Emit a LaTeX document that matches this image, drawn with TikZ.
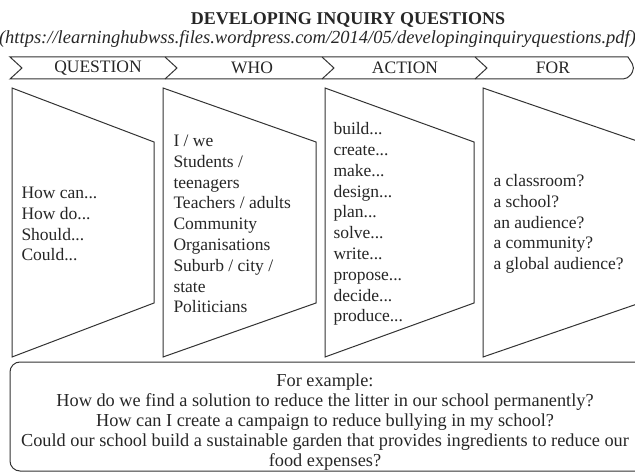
\documentclass[tikz,border=0pt]{standalone}
\usepackage{fontspec}
\setmainfont{Liberation Serif}

\begin{document}
\begin{tikzpicture}[x=1pt,y=-1pt,line width=1pt,
    every node/.style={text=black!85, font=\fontsize{17.5}{20.8}\selectfont},
    head/.style={inner sep=0pt},
    panel/.style={draw=black!80, line join=miter},
    item/.style={anchor=west, align=left, inner sep=0pt}]

    \useasboundingbox (0,0) rectangle (635,473);
    \clip (0,0) rectangle (635,473);

    \node (title) at (348,20) {\fontsize{18}{20}\selectfont\bfseries DEVELOPING INQUIRY QUESTIONS};
    \node[font=\fontsize{18.5}{20}\selectfont\itshape] (url) at (317.5,39) {(https://learninghubwss.files.wordpress.com/2014/05/developinginquiryquestions.pdf)};

    % header bar
    \draw[panel] (22,68) -- (10,57) -- (628,57) [rounded corners=5pt] -- (635,68) -- (628,79) [sharp corners] -- (10,79) -- cycle;
    \foreach \x in {165,322,475}
        \draw[panel] (\x,57) -- (\x+12,68) -- (\x,79);

    \node[head] (hq) at (98,68) {QUESTION};
    \node[head] (hwho) at (252,68) {WHO};
    \node[head] (hact) at (405,68) {ACTION};
    \node[head] (hfor) at (553,68) {FOR};

    % panels
    \foreach \l/\r in {12/154,163/316,325/474,483/640}
        \draw[panel] (\l,88) -- (\r,142) -- (\r,303) -- (\l,357) -- cycle;

    \node[item] (question) at (21,224) {How can...\\How do...\\Should...\\Could...};
    \node[item] (who) at (173,224) {I / we\\Students /\\teenagers\\Teachers / adults\\Community\\Organisations\\Suburb / city /\\state\\Politicians};
    \node[item] (action) at (333,224) {build...\\create...\\make...\\design...\\plan...\\solve...\\write...\\propose...\\decide...\\produce...};
    \node[item] (audience) at (493,224) {a classroom?\\a school?\\an audience?\\a community?\\a global audience?};

    % example box
    \draw[panel, rounded corners=10pt] (10,362) rectangle (660,471);
    \node[align=center, font=\fontsize{18.3}{20.2}\selectfont] (example) at (325,422) {For example:\\
        How do we find a solution to reduce the litter in our school permanently?\\
        How can I create a campaign to reduce bullying in my school?\\
        Could our school build a sustainable garden that provides ingredients to reduce our\\
        food expenses?};

\end{tikzpicture}
\end{document}
